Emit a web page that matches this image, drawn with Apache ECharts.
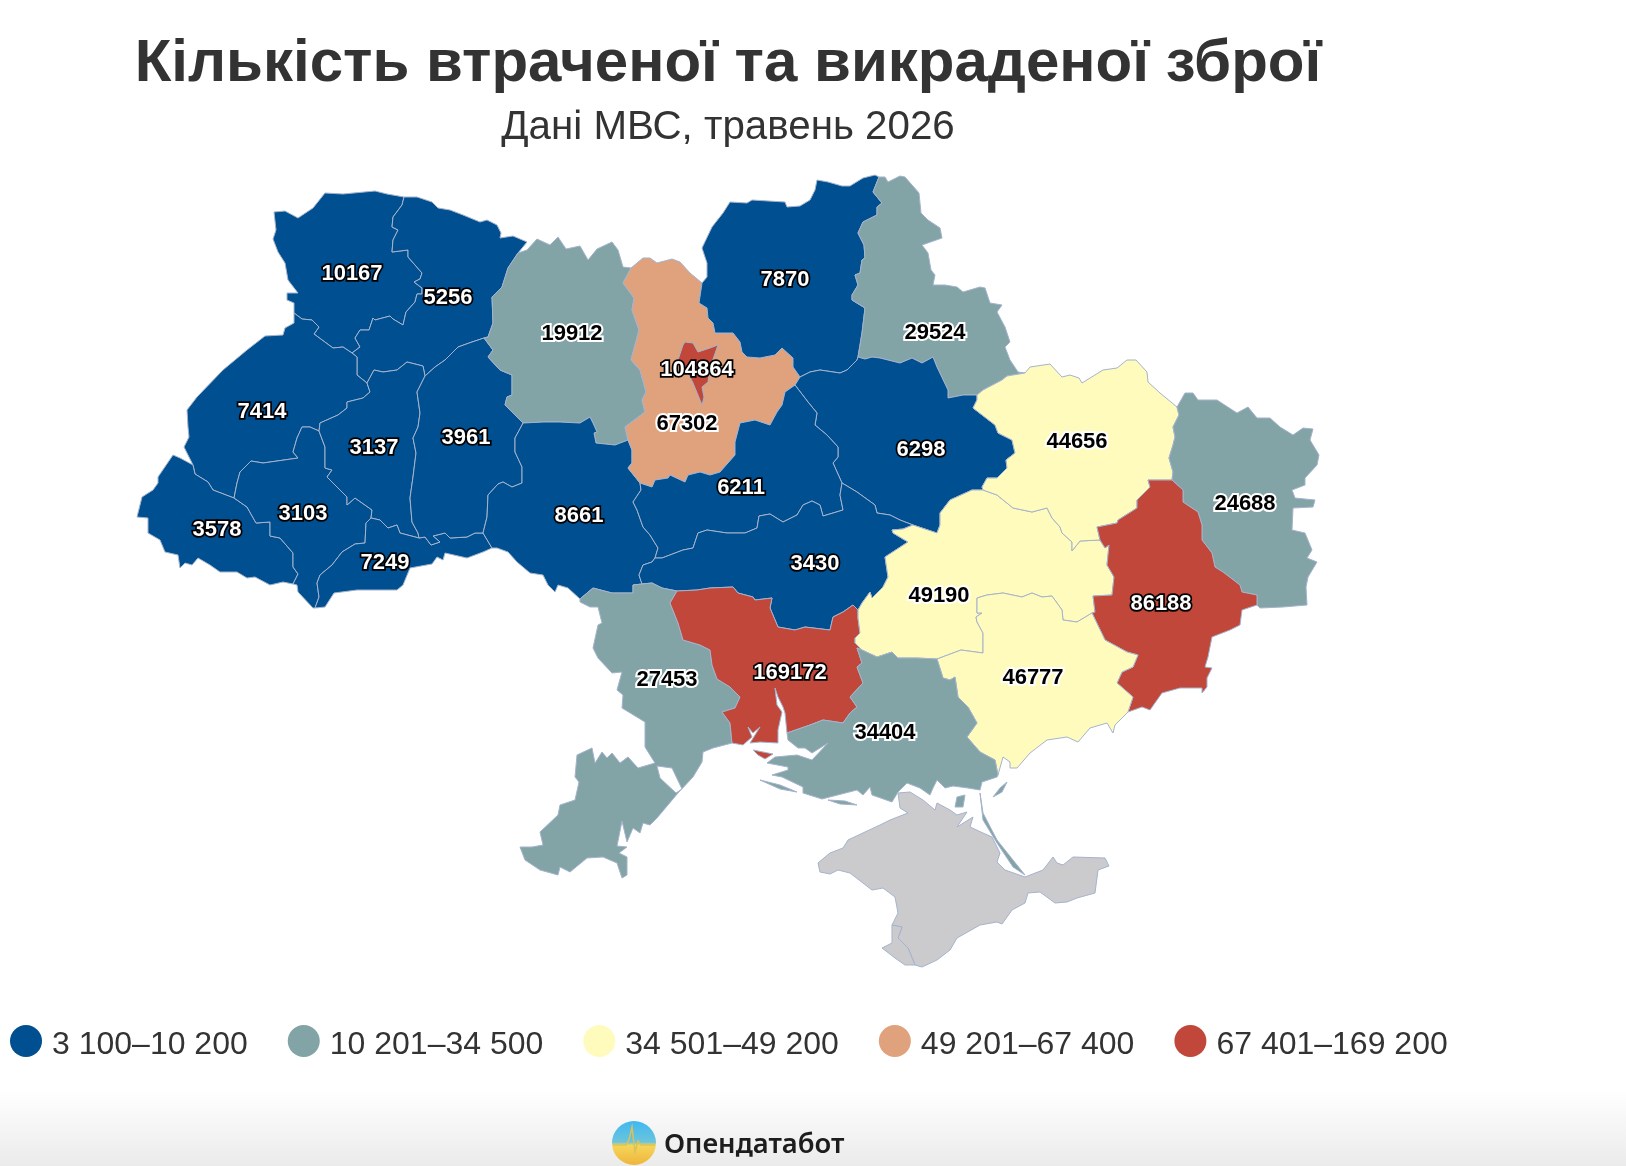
<!DOCTYPE html>
<html>
<head>
<meta charset="utf-8">
<style>
  html, body { margin: 0; padding: 0; background: #fff; }
  #chart { width: 1626px; height: 1166px; }
</style>
<script src="https://cdn.jsdelivr.net/npm/echarts@6/dist/echarts.min.js"></script>
</head>
<body>
<div id="chart"></div>
<script>
// дані
const regionNames = ['Волинська', 'Рівненська', 'Львівська', 'Тернопільська', 'Хмельницька', 'Закарпатська',
  'Івано-Франківська', 'Чернівецька', 'Житомирська', 'Київська', 'м. Київ', 'Чернігівська', 'Сумська',
  'Вінницька', 'Черкаська', 'Кіровоградська', 'Полтавська', 'Харківська', 'Луганська', 'Дніпропетровська',
  'Донецька', 'Запорізька', 'Херсонська', 'Миколаївська', 'Одеська'];
const regionValues = [10167, 5256, 7414, 3137, 3961, 3578, 3103, 7249, 19912, 67302, 104864, 7870, 29524,
  8661, 6211, 3430, 6298, 44656, 24688, 49190, 86188, 46777, 34404, 169172, 27453];

const bucketMin = [3100, 10201, 34501, 49201, 67401];
const bucketMax = [10200, 34500, 49200, 67400, 169200];
const bucketLabels = ['3 100–10 200', '10 201–34 500', '34 501–49 200', '49 201–67 400', '67 401–169 200'];
const bucketColors = ['#004f91', '#82a4a6', '#fffbbd', '#e0a27c', '#c1473a'];
const bucketOnDark = [true, false, false, false, true];

// контури областей: спільні межі, щоб сусіди збігалися точно
const arcs = {
  out_volyn: '294,313 294,303 287,300 287,293 298,293 288,280 285,263 278,252 273,239 276,230 274,212 285,211 298,218 313,208 325,193 343,194 375,191 387,194 404,197',
  v_r: '404,197 402,205 393,217 392,227 398,230 393,240 392,252 408,250 408,257 422,273 420,279 414,282 422,288 422,294 417,294 415,302 406,312 403,325 393,319 390,316 375,320 373,318 369,330 360,330 355,338 360,347 352,353',
  v_l: '294,313 302,319 312,320 319,327 314,334 333,348 343,347 352,353',
  out_rivne: '404,197 417,197 432,202 438,208 450,210 463,215 480,222 487,220 497,225 501,233 500,238 513,236 527,242 518,253',
  r_z: '518,253 508,268 502,287 492,297 493,323 488,337 484,338',
  r_k: '425,376 435,367 445,360 458,347 472,342 484,338',
  r_t: '367,383 374,370 383,372 397,370 407,362 423,366 425,376',
  r_l: '352,353 357,357 357,375 367,383',
  out_lviv: '294,313 294,323 285,328 283,335 265,336 247,350 223,370 197,397 187,410 188,427 189,437 184,447 193,465',
  l_z: '193,465 195,474 208,482 213,490 234,498',
  l_f: '234,498 237,483 240,472 251,461 263,463 298,458 293,452 297,438 302,427 310,427 319,431',
  l_t: '319,431 320,423 338,415 347,408 347,402 363,398 370,392 367,383',
  out_zak: '193,465 180,458 173,455 158,477 158,483 153,490 142,497 137,517 148,518 148,533 160,540 165,552 178,555 180,568 185,563 192,565 198,558 210,565 220,572 237,572 247,578 255,577 270,585 283,582 293,584',
  z_f: '234,498 247,507 256,523 270,522 270,536 280,538 293,553 293,567 298,574 293,584',
  out_fr: '293,584 297,585 298,592 313,608 315,608',
  f_c: '371,518 366,523 365,543 355,544 342,552 332,565 320,575 317,583 319,597 315,608',
  f_t: '319,431 325,447 325,468 332,470 327,477 340,490 347,497 347,505 355,498 372,510 371,518',
  t_c: '371,518 380,520 388,528 397,525 400,533 419,538',
  t_k: '425,376 423,380 417,392 420,413 418,427 413,438 416,453 413,477 410,498 412,522 418,533 419,538',
  out_ch: '315,608 325,607 334,593 357,590 397,590 403,585 410,568 432,564 437,557 443,560 445,553 467,558 483,552 492,548',
  k_c: '419,538 425,537 431,545 440,542 433,536 445,533 450,538 467,537 475,533 483,533',
  c_v: '483,533 492,548',
  k_v: '523,423 522,425 515,438 515,452 522,467 522,483 512,487 503,482 498,484 488,495 487,517 483,533',
  k_z: '484,338 493,350 488,357 500,370 512,375 512,395 507,397 505,405 520,420 523,423',
  out_zh: '518,253 527,250 537,239 550,245 558,237 566,249 580,246 588,260 597,249 612,242 618,250 623,267 631,268',
  z_k: '631,268 623,283 634,298 632,310 639,330 631,360 640,370 646,392 642,400 645,412 625,427 628,440',
  z_v: '523,423 543,422 560,422 580,423 590,417 593,423 597,432 594,433 596,443 615,445 628,440',
  out_vin: '492,548 497,548 508,552 517,562 530,573 543,575 548,585 555,592 558,585 568,588 580,599',
  v_o: '580,599 593,588 612,593 633,593 633,585 642,584',
  v_kir: '655,558 652,562 643,565 639,575 642,584',
  v_ch: '640,483 641,490 633,502 637,510 643,527 650,535 658,548 655,558',
  v_ky: '628,440 632,450 632,463 628,468 640,483',
  out_ky: '631,268 643,258 650,258 657,263 672,259 680,262 690,273 702,283',
  ky_ch: '702,283 699,303 707,308 708,318 713,323 715,333 733,333 740,342 742,352 747,357 760,358 775,355 782,348 793,358 793,367 800,377',
  ky_p: '800,377 795,385',
  ky_ck: '640,483 652,487 655,480 668,478 670,475 685,482 688,475 700,472 710,475 720,472 735,455 735,442 740,423 755,420 770,425 777,412 782,405 785,392 795,385',
  out_cn: '702,283 707,277 707,263 702,248 712,227 723,213 730,202 747,203 752,200 785,202 787,207 800,206 810,200 815,190 817,180 828,182 842,186 850,186 863,178 875,175 879,177',
  cn_s: '879,177 873,192 882,203 877,207 877,215 863,222 858,233 864,245 865,258 862,260 860,273 855,275 858,285 852,295 852,300 865,308 862,333 858,357',
  cn_p: '858,357 857,360 847,370 840,373 820,370 810,372 800,377',
  out_s: '879,177 885,177 888,182 900,176 905,177 919,193 921,213 928,220 940,228 942,238 922,245 928,253 931,270 935,275 933,285 945,285 957,287 963,292 980,287 985,288 990,303 1002,305 997,312 1005,327 1010,342 1005,347 1010,360 1018,372 1025,373',
  s_k: '1025,373 1007,376 1002,380 983,390 977,395',
  s_p: '977,395 963,395 948,398 948,390 937,367 933,357 922,363 912,358 900,363 880,358 872,357 865,359 858,357',
  p_k: '977,395 977,400 973,408 995,425 998,433 1012,440 1015,453 1006,460 1007,468 997,478 987,478 982,487 983,490',
  p_d: '983,490 972,490 950,500 940,513 940,525 937,533 913,525',
  p_kir: '842,483 857,492 875,505 877,513 890,515 900,520 913,525',
  ck_p: '795,385 808,402 817,413 815,425 827,435 838,447 838,457 833,463 842,483',
  ck_kir: '655,558 662,558 683,550 693,548 698,533 707,530 727,533 745,533 757,528 759,516 770,514 783,522 797,515 803,505 812,501 820,505 823,516 843,510 840,495 842,483',
  kir_o: '642,584 652,583 662,588 677,591',
  kir_m: '677,591 697,590 710,588 733,587 738,593 753,597 755,600 772,598 770,608 778,627 795,630 805,627 830,630 833,617 843,612 853,605 858,610',
  kir_d: '858,610 862,603 870,592 872,598 883,587 888,577 885,557 908,542 893,533 892,530 903,529 913,525',
  o_out: '580,599 580,602 590,607 598,607 602,623 598,625 593,648 598,658 612,673 622,672 617,690 623,695 622,708 645,722 645,747 655,763 638,768 628,757 620,763 612,753 607,758 602,752 595,763 592,748 577,755 575,777 579,782 575,800 560,805 558,815 540,832 543,845 532,847 520,847 525,860 540,870 558,875 560,867 570,872 587,858 603,857 617,863 622,878 627,875 627,857 619,853 627,847 617,846 622,821 627,842 633,828 640,833 643,823 650,825 657,818 678,793 693,777 702,762 703,752 713,748 732,743',
  o_m: '732,743 730,723 722,712 735,708 740,697 730,687 717,679 712,665 710,650 700,645 683,640 678,623 670,603 677,591',
  d_m: '862,650 855,643 855,638 860,633 858,618 858,610',
  m_kh: '862,650 857,648 862,663 857,667 863,683 850,697 857,707 850,713 843,723 823,720 810,725 787,733',
  m_s: '787,733 785,713 783,707 778,697 775,688 777,705 782,712 778,730 778,743 760,742 750,743 755,735 760,727 753,733 748,727 752,737 743,745 732,743',
  d_kh: '983,490 997,495 1013,508 1032,512 1047,508 1052,518 1060,527 1062,533 1072,542 1072,551 1080,541 1100,540',
  d_dn: '1100,540 1105,548 1109,545 1107,565 1114,577 1112,595 1093,596 1095,612 1092,613',
  d_z: '1092,613 1077,622 1063,620 1062,610 1052,596 1042,597 1032,593 1022,597 1003,593 987,595 977,598 977,613 982,613 976,617 977,622 983,633 983,653 961,650 937,659',
  d_khs: '937,659 917,658 898,658 892,652 877,657 862,650',
  out_kh: '1025,373 1030,367 1050,364 1062,377 1070,375 1079,378 1082,383 1103,370 1117,368 1127,360 1136,360 1147,372 1148,382 1160,393 1177,407',
  kh_l: '1177,407 1179,415 1173,427 1175,437 1173,445 1169,458 1173,472 1172,480',
  kh_dn: '1100,540 1097,527 1117,523 1118,520 1137,508 1137,500 1150,487 1148,480 1172,480',
  out_lu: '1177,407 1185,393 1193,393 1198,400 1217,400 1237,413 1248,407 1257,418 1270,418 1280,427 1293,435 1303,428 1313,429 1310,440 1319,455 1317,465 1305,478 1305,485 1292,490 1295,498 1315,500 1313,507 1293,508 1292,530 1305,533 1312,550 1307,558 1317,562 1308,577 1306,587 1307,605 1283,607 1260,608 1257,605',
  dn_l: '1172,480 1183,490 1183,502 1198,512 1202,525 1202,540 1212,553 1215,567 1223,572 1240,585 1242,592 1257,595 1257,605',
  out_dn: '1257,605 1242,610 1240,625 1230,630 1212,637 1208,657 1205,667 1212,668 1207,678 1207,687 1202,693 1202,688 1180,688 1162,693 1150,710 1142,707 1128,712',
  dn_z: '1092,613 1105,640 1127,652 1138,655 1133,667 1122,672 1117,683 1133,697 1128,712',
  out_z: '1128,712 1115,725 1113,733 1107,723 1090,728 1078,742 1067,737 1047,740 1030,753 1017,768 1010,768 1010,762 1003,757 998,775',
  z_kh: '937,659 943,678 950,680 955,677 958,697 968,707 977,723 967,737 980,752 995,760 998,775',
  out_khs: '787,733 788,740 798,748 805,748 812,753 828,743 812,760 797,755 775,757 767,763 788,767 788,770 772,775 782,777 803,787 803,793 822,799 857,790 863,795 870,787 872,795 892,802 898,792 907,783 920,788 930,795 933,788 937,780 945,788 953,786 968,788 980,790 982,782 997,777 998,775',
  out_cr: '892,925 898,913 895,897 883,888 872,890 850,873 838,870 830,874 820,872 818,863 830,853 843,848 848,840 865,832 880,825 890,820 908,813 900,808 898,793 910,792 923,800 935,810 937,803 950,810 957,815 967,812 957,827 973,817 970,827 983,833 992,837 1000,853 997,862 1005,870 1025,877 1043,870 1053,857 1057,863 1063,865 1073,857 1105,858 1109,866 1098,870 1095,893 1077,898 1067,902 1055,903 1040,892 1028,893 1025,903 1012,910 1002,924 997,922 980,925 957,938 950,950 937,960 922,967 915,965',
  s_cr: '892,925 902,927 898,938 908,948 913,960 915,965',
  out_sev: '915,965 905,965 895,958 882,948 892,943 892,925'
};

// кілька кілець на область; мінус означає зворотний хід межі
const regionRings = {
  'Волинська': [['out_volyn', 'v_r', '-v_l']],
  'Рівненська': [['out_rivne', 'r_z', '-r_k', '-r_t', '-r_l', '-v_r']],
  'Львівська': [['out_lviv', 'l_z', 'l_f', 'l_t', '-r_l', '-v_l']],
  'Закарпатська': [['out_zak', '-z_f', '-l_z']],
  'Івано-Франківська': [['z_f', 'out_fr', '-f_c', '-f_t', '-l_f']],
  'Тернопільська': [['-l_t', 'f_t', 't_c', '-t_k', '-r_t']],
  'Чернівецька': [['f_c', 'out_ch', '-c_v', '-k_c', '-t_c']],
  'Хмельницька': [['r_k', 'k_z', 'k_v', '-k_c', '-t_k']],
  'Житомирська': [['out_zh', 'z_k', '-z_v', '-k_z', '-r_z']],
  'Вінницька': [['z_v', 'v_ky', 'v_ch', 'v_kir', '-v_o', '-out_vin', '-c_v', '-k_v']],
  'Київська': [['out_ky', 'ky_ch', 'ky_p', '-ky_ck', '-v_ky', '-z_k']],
  'Чернігівська': [['out_cn', 'cn_s', 'cn_p', '-ky_ch']],
  'Сумська': [['out_s', 's_k', 's_p', '-cn_s']],
  'Полтавська': [['p_k', 'p_d', '-p_kir', '-ck_p', '-ky_p', '-cn_p', '-s_p']],
  'Черкаська': [['ky_ck', 'ck_p', '-ck_kir', '-v_ch']],
  'Кіровоградська': [['ck_kir', 'p_kir', '-kir_d', '-kir_m', '-kir_o', '-v_kir']],
  'Одеська': [['v_o', 'kir_o', '-o_m', '-o_out']],
  'Миколаївська': [['kir_m', '-d_m', 'm_kh', 'm_s', 'o_m']],
  'Дніпропетровська': [['-p_d', 'd_kh', 'd_dn', 'd_z', 'd_khs', 'd_m', 'kir_d']],
  'Харківська': [['-s_k', 'out_kh', 'kh_l', '-kh_dn', '-d_kh', '-p_k']],
  'Луганська': [['out_lu', '-dn_l', '-kh_l']],
  'Донецька': [['dn_l', 'out_dn', '-dn_z', '-d_dn', 'kh_dn']],
  'Запорізька': [['-d_z', 'dn_z', 'out_z', '-z_kh']],
  'Херсонська': [['-m_kh', '-d_khs', 'z_kh', '-out_khs']],
  'АР Крим': [['out_cr', '-s_cr']],
  'Севастополь': [['s_cr', 'out_sev']]
};

// острови, коси, лимани
const extraParts = {
  'Миколаївська': ['753,750 773,754 765,759 758,755'],
  'Херсонська': ['980,793 983,813 997,840 1025,875 1013,867 997,843 983,820',
    '957,797 965,795 963,807 955,807', '993,797 1000,788 1007,782 1002,792',
    '760,780 780,785 797,792 780,789', '828,800 845,801 857,805 840,804'],
  'м. Київ': ['685,342 693,343 698,352 710,348 718,345 710,368 708,382 702,387 704,397 702,405 693,383 690,377 678,360 683,345']
};
// лиман: хід кільця проти зовнішнього контуру, інакше не буде дірки
const holes = { 'Одеська': '660,778 676,793 682,789 672,768 657,766' };

// де стоять підписи
const labelAnchors = {
  'Волинська': [352, 273], 'Рівненська': [448, 297], 'Львівська': [262, 411], 'Тернопільська': [374, 447],
  'Хмельницька': [466, 437], 'Закарпатська': [217, 529], 'Івано-Франківська': [303, 513], 'Чернівецька': [385, 562],
  'Житомирська': [572, 333], 'Київська': [687, 423], 'м. Київ': [697, 369], 'Чернігівська': [785, 279],
  'Сумська': [935, 332], 'Вінницька': [579, 515], 'Черкаська': [741, 487], 'Кіровоградська': [815, 563],
  'Полтавська': [921, 449], 'Харківська': [1077, 441], 'Луганська': [1245, 503], 'Дніпропетровська': [939, 595],
  'Донецька': [1161, 603], 'Запорізька': [1033, 677], 'Херсонська': [885, 732], 'Миколаївська': [790, 672],
  'Одеська': [667, 679]
};

const parsePts = s => s.split(' ').map(p => {
  const [x, y] = p.split(',').map(Number);
  return [x, -y];
});

const buildRing = list => {
  const pts = [];
  list.forEach(key => {
    const rev = key[0] === '-';
    const line = parsePts(arcs[rev ? key.slice(1) : key]);
    if (rev) line.reverse();
    pts.push(...(pts.length ? line.slice(1) : line));
  });
  pts.push(pts[0]);
  return pts;
};

const closeRing = s => {
  const pts = parsePts(s);
  pts.push(pts[0]);
  return pts;
};

const buildFeature = name => {
  const polys = (regionRings[name] || []).map(r => [buildRing(r)]);
  if (holes[name]) polys[0].push(closeRing(holes[name]));
  (extraParts[name] || []).forEach(s => polys.push([closeRing(s)]));
  const anchor = labelAnchors[name];
  const properties = { name };
  if (anchor) properties.cp = [anchor[0], -anchor[1]];
  return { type: 'Feature', properties, geometry: { type: 'MultiPolygon', coordinates: polys } };
};

const allNames = Object.keys(regionRings).concat(['м. Київ']);
echarts.registerMap('ukraine', { type: 'FeatureCollection', features: allNames.map(buildFeature) });

const bucketOf = v => bucketMin.findIndex((m, i) => v >= m && v <= bucketMax[i]);

const seriesData = regionNames.map((name, i) => {
  const dark = bucketOnDark[bucketOf(regionValues[i])];
  return {
    name,
    value: regionValues[i],
    label: {
      show: true,
      color: dark ? '#fff' : '#000',
      textBorderColor: dark ? '#000' : '#fff',
      textBorderWidth: dark ? 3.5 : 4
    }
  };
});

// легенда: visualMap не дає зсунути текст відносно кружка, тому малюємо сама
const legendFont = '32px "Liberation Sans"';
const measureCtx = document.createElement('canvas').getContext('2d');
measureCtx.font = legendFont;
let legendX = 10;
const legendItems = [];
bucketLabels.forEach((label, i) => {
  legendItems.push({ type: 'circle', z: 10, shape: { cx: legendX + 16, cy: 1041, r: 16 }, style: { fill: bucketColors[i] } });
  legendItems.push({
    type: 'text', z: 10, x: legendX + 42, y: 1045,
    style: { text: label, font: legendFont, fill: '#333', verticalAlign: 'middle' }
  });
  legendX += 42 + measureCtx.measureText(label).width + 40;
});

const chart = echarts.init(document.getElementById('chart'), null, { renderer: 'canvas' });

chart.setOption({
  animation: false,
  backgroundColor: '#fff',
  textStyle: { fontFamily: '"Liberation Sans"' },
  title: [
    {
      text: 'Кількість втраченої та викраденої зброї',
      left: 723,
      top: 29,
      textAlign: 'center',
      textStyle: { fontFamily: '"Liberation Sans"', fontSize: 60, fontWeight: 'bold', color: '#333' }
    },
    {
      text: 'Дані МВС, травень 2026',
      left: 723,
      top: 103,
      textAlign: 'center',
      textStyle: { fontFamily: '"Liberation Sans"', fontSize: 40.3, fontWeight: 'normal', color: '#333' }
    }
  ],
  visualMap: {
    type: 'piecewise',
    show: false,
    pieces: bucketMin.map((m, i) => ({ min: m, max: bucketMax[i], label: bucketLabels[i], color: bucketColors[i] }))
  },
  series: [{
    type: 'map',
    map: 'ukraine',
    roam: false,
    aspectScale: 1,
    boundingCoords: [[0, 0], [1626, -1166]],
    left: 0,
    top: 0,
    width: 1626,
    height: 1166,
    data: seriesData,
    selectedMode: false,
    silent: true,
    label: { show: false, formatter: '{c}', offset: [0, 1], fontFamily: '"Liberation Sans"', fontSize: 22, fontWeight: 'bold' },
    itemStyle: { areaColor: '#cbcbce', borderColor: '#a5b3cc', borderWidth: 1 },
    emphasis: { disabled: true }
  }],
  graphic: [
    {
      type: 'rect',
      z: -1,
      shape: { x: 0, y: 1090, width: 1626, height: 76 },
      style: {
        fill: new echarts.graphic.LinearGradient(0, 0, 0, 1, [
          { offset: 0, color: '#ffffff' },
          { offset: 1, color: '#ebebeb' }
        ])
      }
    },
    ...legendItems,
    {
      type: 'circle',
      z: 10,
      shape: { cx: 634, cy: 1143, r: 22 },
      style: {
        fill: new echarts.graphic.LinearGradient(0, 0, 0, 1, [
          { offset: 0, color: '#3fb8f2' },
          { offset: 0.48, color: '#6cc4dc' },
          { offset: 0.55, color: '#f5d65a' },
          { offset: 1, color: '#efb53c' }
        ])
      }
    },
    {
      type: 'polyline',
      z: 11,
      shape: { points: [[613, 1145], [626, 1145], [629, 1140], [632, 1127], [635, 1152], [638, 1141], [641, 1145], [655, 1145]] },
      style: { stroke: '#d9c25a', lineWidth: 1.5, fill: null }
    },
    {
      type: 'text',
      z: 10,
      left: 664,
      top: 1132,
      style: { text: 'Опендатабот', font: '600 27.4px "Noto Sans"', fill: '#1d1d1d' }
    }
  ]
});
</script>
</body>
</html>
